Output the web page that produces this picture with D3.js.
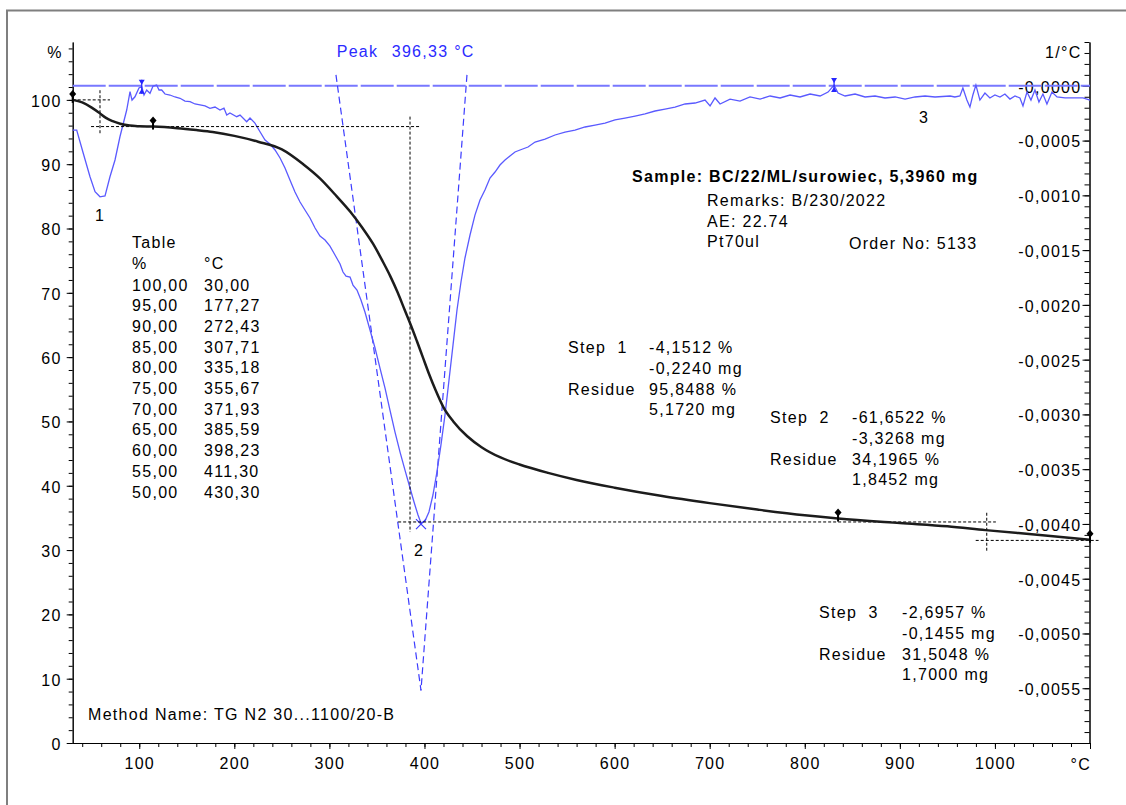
<!DOCTYPE html>
<html>
<head>
<meta charset="utf-8">
<script src="https://cdn.jsdelivr.net/npm/d3@7"></script>
<style>
  body { margin: 0; background: #fff; }
  svg text { font-family: "Liberation Sans", Arial, sans-serif; font-size: 16px; letter-spacing: 1.3px; white-space: pre; }
</style>
</head>
<body>
<svg id="chart" width="1126" height="805"></svg>
<script>
// ---- TG curve: temperature (°C) vs. residual mass (%) ----
const tgTemp = [30,40,50,58.7,65,72,80,90,100,115,140,160,177.27,200,225,250,272.43,290,307.71,322,
  335.18,346,355.67,364,371.93,379,385.59,392,398.23,405,411.30,420,430.30,445,460,480,500,530,560,600,
  650,700,750,800,835,900,950,990,1050,1100];
const tgMass = [100,99.6,98.8,97.9,97.2,96.7,96.3,96.0,95.9,95.85,95.6,95.3,95.0,94.4,93.5,92.3,90.0,87.8,85.0,82.6,
  80.0,77.6,75.0,72.6,70.0,67.4,65.0,62.5,60.0,57.3,55.0,52.2,50.0,47.7,46.0,44.4,43.3,42.0,40.9,39.7,
  38.4,37.3,36.3,35.4,34.9,34.2,33.7,33.1,32.3,31.6];

// ---- DTG curve: temperature (°C) vs. rate, in units of 1e-4 1/°C ----
const dtgTemp = [30,34.2,41.1,48.2,53.5,58.7,64.0,69.2,74.5,79.7,86.8,90.3,92.4,95.5,99.7,102.6,105.0,107.8,111.3,114.5,
  118.3,120.8,123.6,127.1,132.3,137.6,142.9,148.1,153.4,158.6,163.9,169.2,174.4,179.7,184.9,189.1,192.0,195.4,202.5,206.0,
  213.0,216.5,221.7,227.0,232.3,237.5,242.8,248.1,253.3,258.5,263.8,269.1,274.3,279.6,284.9,290.1,295.4,300.6,305.9,311.2,
  314.3,317.5,321.7,324.8,329.0,333.2,337.4,342.7,348.0,353.2,358.5,363.7,369.0,374.3,379.5,384.8,389.0,393.2,396.3,400.5,
  404.7,408.9,413.1,417.3,421.6,425.8,430.0,434.2,438.4,442.6,447.9,453.1,458.4,463.6,468.9,474.2,479.4,484.7,489.9,495.2,
  500.5,508.9,516.3,526.8,537.3,547.8,558.3,568.9,579.4,589.9,600.4,610.9,621.5,632.0,642.5,653.0,663.5,674.1,684.6,695.1,
  700.4,705.6,710.9,721.4,731.9,742.4,753.0,763.5,774.0,784.5,795.0,805.6,816.1,824.5,830.8,835.0,842.4,852.9,863.4,873.9,
  884.4,895.0,905.5,916.0,926.5,937.0,952.8,957.9,963.2,966.3,970.5,973.7,976.8,980.0,984.2,989.5,994.7,1000.0,1005.3,1010.5,
  1015.8,1021.1,1026.3,1029.5,1033.7,1037.9,1042.1,1046.3,1050.5,1054.7,1060.0,1065.3,1073.7,1084.2,1092.6,1100];
const dtgRate = [-4.04,-4.04,-6.16,-8.30,-9.67,-10.13,-10.06,-8.30,-6.77,-4.65,-2.21,-0.54,-1.30,-1.00,-0.20,-0.08,-0.84,-0.38,-0.68,-0.02,
  0.07,-0.38,-0.38,-0.75,-0.84,-1.02,-1.14,-1.39,-1.45,-1.66,-1.75,-1.84,-2.05,-1.94,-2.21,-2.03,-2.67,-2.48,-2.82,-2.67,
  -3.28,-2.94,-3.40,-4.19,-4.95,-5.31,-5.86,-6.59,-7.50,-8.60,-9.70,-10.61,-11.34,-12.07,-12.98,-13.71,-14.08,-14.63,-15.45,-16.27,
  -17.00,-17.37,-17.46,-18.19,-18.64,-19.56,-20.65,-22.29,-23.94,-25.77,-27.60,-29.60,-31.61,-33.44,-35.08,-36.72,-38.00,-39.19,-39.92,-39.73,
  -38.91,-37.36,-35.26,-32.80,-30.05,-26.86,-23.67,-20.47,-17.91,-15.72,-13.62,-11.80,-10.43,-9.51,-8.42,-7.87,-7.23,-6.78,-6.41,-6.04,
  -5.86,-5.59,-5.13,-4.86,-4.49,-4.22,-4.04,-3.76,-3.58,-3.40,-3.12,-2.94,-2.76,-2.57,-2.30,-2.12,-1.94,-1.66,-1.57,-1.30,
  -1.84,-1.11,-1.66,-1.21,-1.39,-1.02,-1.21,-0.93,-1.11,-0.84,-1.02,-0.75,-0.93,-0.57,0.07,-0.66,-0.93,-0.75,-1.02,-0.93,
  -1.11,-1.02,-1.21,-1.02,-0.93,-1.02,-0.93,-1.02,-0.93,-0.20,-1.30,-1.94,-0.84,0.07,-1.30,-0.66,-1.11,-0.84,-1.02,-0.75,
  -1.21,-0.93,-1.11,-1.84,-0.57,-1.30,-0.38,-1.48,-0.75,-1.66,-0.57,-1.02,-1.11,-1.11,-1.11,-1.30];

// ---- Conversion table (mass % -> temperature °C) ----
const tablePct  = ["100,00","95,00","90,00","85,00","80,00","75,00","70,00","65,00","60,00","55,00","50,00"];
const tableTemp = ["30,00","177,27","272,43","307,71","335,18","355,67","371,93","385,59","398,23","411,30","430,30"];

// ---- Axis ticks ----
const xMajor = [100,200,300,400,500,600,700,800,900,1000,1100];
const xMajorLabels = ["100","200","300","400","500","600","700","800","900","1000",""];
const yLeftMajor = [0,10,20,30,40,50,60,70,80,90,100];
const yRightMajor = [0,-5,-10,-15,-20,-25,-30,-35,-40,-45,-50,-55];
const yRightLabels = ["-0,0000","-0,0005","-0,0010","-0,0015","-0,0020","-0,0025","-0,0030","-0,0035","-0,0040","-0,0045","-0,0050","-0,0055"];

// ---- Evaluation results ----
const peakTemp = 396.33;
const peakRate = -39.92;
const step1 = ["-4,1512 %", "-0,2240 mg", "95,8488 %", "5,1720 mg"];
const step2 = ["-61,6522 %", "-3,3268 mg", "34,1965 %", "1,8452 mg"];
const step3 = ["-2,6957 %", "-0,1455 mg", "31,5048 %", "1,7000 mg"];
const stepMarkers = [30, 114.5, 835, 1100];
const dtgMarkers = [102.6, 830.8];
// dashed step construction lines, in (°C, %)
const stepLines = [
  [30, 100, 69.2, 100],
  [58.7, 101.5, 58.7, 94.7],
  [49.3, 95.85, 395.4, 95.85],
  [384.8, 97.4, 384.8, 32.8],
  [372.3, 34.37, 1001, 34.37],
  [991.4, 35.8, 991.4, 29.9],
  [979.8, 31.5, 1109, 31.5]
];
// peak tangents, in (°C, 1e-4 1/°C)
const tangents = [
  [306.9, 1.0, 396.33, -55.2],
  [444.7, 1.0, 396.33, -55.2]
];

const svg = d3.select("#chart");

// outer frame
svg.append("rect").attr("x", 7).attr("y", 10.5).attr("width", 1300).attr("height", 900)
  .attr("fill", "none").attr("stroke", "#7f7f7f").attr("stroke-width", 2);

const x = d3.scaleLinear().domain([30, 1100]).range([72.7, 1090]);
const yL = d3.scaleLinear().domain([0, 109]).range([743, 42]);
const yR = d3.scaleLinear().domain([-60, 4]).range([743, 42]);

function styleAxis(g) {
  g.attr("font-family", null).attr("font-size", null);
  g.selectAll("line").attr("stroke", "#000");
  g.selectAll("path").attr("stroke", "#000");
  g.selectAll("text").attr("fill", "#000");
}

// X axis
const gx = svg.append("g").attr("transform", "translate(0,743)");
gx.append("g").call(d3.axisBottom(x).tickValues(d3.range(40, 1101, 20)).tickSize(4).tickSizeOuter(0).tickFormat(""))
  .call(styleAxis);
gx.append("g").call(d3.axisBottom(x).tickValues(xMajor).tickSize(6).tickSizeOuter(0).tickPadding(9)
  .tickFormat((d, i) => xMajorLabels[i]))
  .call(styleAxis);
gx.append("text").attr("x", 1091).attr("y", 27).attr("text-anchor", "end").text("°C");

// Left axis (%)
const gl = svg.append("g").attr("transform", "translate(72.7,0)");
gl.append("g").call(d3.axisLeft(yL).tickValues(d3.range(0, 109, 2)).tickSize(4).tickSizeOuter(0).tickFormat(""))
  .call(styleAxis);
gl.append("g").call(d3.axisLeft(yL).tickValues(yLeftMajor).tickSize(6).tickSizeOuter(0).tickPadding(5)
  .tickFormat(d3.format("d")))
  .call(styleAxis);
gl.selectAll(".tick text").attr("dy", "0.4em");
gl.append("text").attr("x", -10).attr("y", 58).attr("text-anchor", "end").text("%");

// Right axis (1/°C)
const gr = svg.append("g").attr("transform", "translate(1089.5,0)");
gr.append("g").call(d3.axisLeft(yR).tickValues(d3.range(-60, 5, 1)).tickSize(5).tickSizeOuter(0).tickFormat(""))
  .call(styleAxis);
gr.append("g").call(d3.axisLeft(yR).tickValues(yRightMajor).tickSize(7).tickSizeOuter(0).tickPadding(1)
  .tickFormat((d, i) => yRightLabels[i]))
  .call(styleAxis);
gr.selectAll(".tick text").attr("dy", "0.4em");
gr.append("text").attr("x", -8).attr("y", 58).attr("text-anchor", "end").text("1/°C");

// DTG zero baseline
svg.append("line")
  .attr("x1", x(30)).attr("x2", x(1100)).attr("y1", yR(0)).attr("y2", yR(0))
  .attr("stroke", "#7878ff").attr("stroke-width", 2).attr("stroke-dasharray", "33,3");

// peak tangents
svg.append("g").selectAll("line").data(tangents).join("line")
  .attr("x1", d => x(d[0])).attr("y1", d => yR(d[1]))
  .attr("x2", d => x(d[2])).attr("y2", d => yR(d[3]))
  .attr("stroke", "#3c3cff").attr("stroke-width", 1.2).attr("stroke-dasharray", "7,4");

// DTG curve
const dtgData = dtgTemp.map((t, i) => [t, dtgRate[i]]);
svg.append("path").datum(dtgData)
  .attr("fill", "none").attr("stroke", "#5a5aff").attr("stroke-width", 1.3)
  .attr("d", d3.line().x(d => x(d[0])).y(d => yR(d[1])));

// DTG markers
dtgMarkers.forEach(t => {
  const i = d3.minIndex(dtgTemp, v => Math.abs(v - t));
  const cx = x(t), cy = yR(dtgRate[i]);
  const g = svg.append("g").attr("fill", "#2626ff").attr("stroke", "#2626ff");
  g.append("line").attr("x1", cx).attr("x2", cx).attr("y1", cy - 7).attr("y2", cy + 7).attr("stroke-width", 1.2);
  g.append("path").attr("d", `M${cx - 3},${cy - 7}L${cx + 3},${cy - 7}L${cx},${cy - 2}Z`).attr("stroke", "none");
  g.append("path").attr("d", `M${cx - 3},${cy + 7}L${cx + 3},${cy + 7}L${cx},${cy + 2}Z`).attr("stroke", "none");
});

// peak cross
{
  const px = x(peakTemp), py = yR(peakRate) + 1;
  svg.append("path").attr("d", `M${px - 5},${py - 5}L${px + 5},${py + 5}M${px - 5},${py + 5}L${px + 5},${py - 5}`)
    .attr("stroke", "#3c3cff").attr("stroke-width", 1.2);
}

// step construction lines
svg.append("g").selectAll("line").data(stepLines).join("line")
  .attr("x1", d => x(d[0])).attr("y1", d => yL(d[1]))
  .attr("x2", d => x(d[2])).attr("y2", d => yL(d[3]))
  .attr("stroke", "#000").attr("stroke-width", 1).attr("stroke-dasharray", "3,2");

// TG curve
const tgData = tgTemp.map((t, i) => [t, tgMass[i]]);
svg.append("path").datum(tgData)
  .attr("fill", "none").attr("stroke", "#1c1c1c").attr("stroke-width", 2.5)
  .attr("d", d3.line().curve(d3.curveMonotoneX).x(d => x(d[0])).y(d => yL(d[1])));

// TG step limit markers
const tgAt = d3.scaleLinear().domain(tgTemp).range(tgMass);
stepMarkers.forEach(t => {
  const cx = x(t), cy = yL(tgAt(t));
  svg.append("line").attr("x1", cx).attr("x2", cx).attr("y1", cy - 6).attr("y2", cy + 3)
    .attr("stroke", "#000").attr("stroke-width", 2);
  svg.append("path").attr("d", `M${cx},${cy - 10}L${cx + 3.5},${cy - 6}L${cx},${cy - 2}L${cx - 3.5},${cy - 6}Z`)
    .attr("fill", "#000");
});

// text annotations
function txt(xp, yp, s, opt = {}) {
  const t = svg.append("text").attr("x", xp).attr("y", yp).text(s);
  if (opt.fill) t.attr("fill", opt.fill);
  if (opt.bold) t.attr("font-weight", "bold");
  if (opt.anchor) t.attr("text-anchor", opt.anchor);
  return t;
}

txt(336.7, 57, "Peak", { fill: "#2a2aff" });
txt(391.7, 57, "396,33 °C", { fill: "#2a2aff" });

txt(95, 221, "1");
txt(414, 556, "2");
txt(919, 123, "3");

txt(632, 182, "Sample: BC/22/ML/surowiec, 5,3960 mg", { bold: true });
txt(707, 206, "Remarks: B/230/2022");
txt(707, 227, "AE: 22.74");
txt(707, 247, "Pt70ul");
txt(849, 249, "Order No: 5133");

txt(132, 248, "Table");
txt(132, 269, "%");
txt(204, 269, "°C");
tablePct.forEach((p, i) => {
  txt(132, 290.5 + i * 20.7, p);
  txt(204, 290.5 + i * 20.7, tableTemp[i]);
});

function stepBlock(x0, x1, y0, name, vals) {
  txt(x0, y0, name);
  txt(x1, y0, vals[0]);
  txt(x1, y0 + 20.8, vals[1]);
  txt(x0, y0 + 41.6, "Residue");
  txt(x1, y0 + 41.6, vals[2]);
  txt(x1, y0 + 62.4, vals[3]);
}
stepBlock(568, 649, 353, "Step  1", step1);
stepBlock(770, 852, 423, "Step  2", step2);
stepBlock(819, 902, 618, "Step  3", step3);

txt(88, 720, "Method Name: TG N2 30...1100/20-B");
</script>
</body>
</html>
